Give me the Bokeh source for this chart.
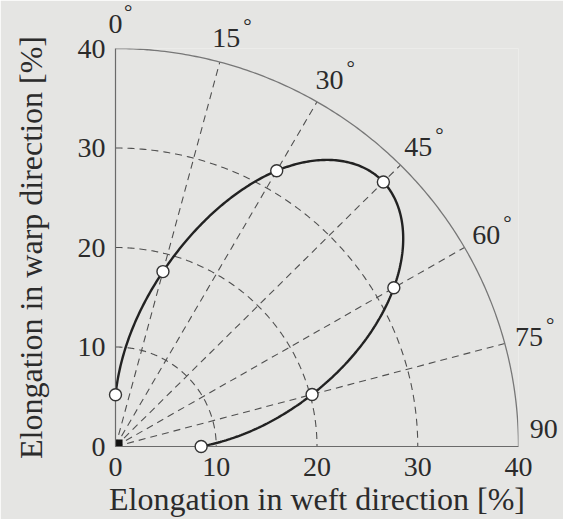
import numpy as np
from bokeh.plotting import figure
from bokeh.models import Range1d, FixedTicker
from bokeh.embed import file_html
from bokeh.resources import INLINE
from bokeh.core.properties import value

# Loading direction, measured from the warp (vertical) axis, in degrees
angles_deg = [0, 15, 30, 45, 60, 75, 90]
# Elongation at break in each direction [%]
elongation = [5.2, 18.2, 32.0, 37.6, 31.9, 20.2, 8.5]
angle_labels = ["0", "15", "30", "45", "60", "75", "90"]
ring_radii = [10, 20, 30]
outer_radius = 40
axis_ticks = [0, 10, 20, 30, 40]

FONT = "Liberation Serif"
INK = "#2b2b2b"
BG = "#e5e5e3"


def natural_spline(xk, yk, xs):
    """Natural cubic spline through (xk, yk), evaluated at xs."""
    xk = np.asarray(xk, float)
    yk = np.asarray(yk, float)
    n = len(xk)
    h = np.diff(xk)
    A = np.zeros((n, n))
    b = np.zeros(n)
    A[0, 0] = A[-1, -1] = 1.0
    for i in range(1, n - 1):
        A[i, i - 1] = h[i - 1]
        A[i, i] = 2 * (h[i - 1] + h[i])
        A[i, i + 1] = h[i]
        b[i] = 6 * ((yk[i + 1] - yk[i]) / h[i] - (yk[i] - yk[i - 1]) / h[i - 1])
    M = np.linalg.solve(A, b)
    idx = np.clip(np.searchsorted(xk, xs) - 1, 0, n - 2)
    x0, x1 = xk[idx], xk[idx + 1]
    hh = x1 - x0
    t0, t1 = x1 - xs, xs - x0
    return ((M[idx] * t0 ** 3 + M[idx + 1] * t1 ** 3) / (6 * hh)
            + (yk[idx] / hh - M[idx] * hh / 6) * t0
            + (yk[idx + 1] / hh - M[idx + 1] * hh / 6) * t1)


def to_xy(theta_deg, r):
    t = np.radians(theta_deg)
    return r * np.sin(t), r * np.cos(t)


p = figure(width=563, height=519,
           x_range=Range1d(0, 40), y_range=Range1d(0, 40),
           min_border_left=115, min_border_right=45,
           min_border_top=48, min_border_bottom=69,
           output_backend="svg", toolbar_location=None)
p.background_fill_color = BG
p.border_fill_color = BG
p.outline_line_color = None
p.grid.visible = False

for ax in (p.xaxis[0], p.yaxis[0]):
    ax.ticker = FixedTicker(ticks=axis_ticks)
    ax.axis_line_color = "#6a6a6a"
    ax.axis_line_width = 1.2
    ax.major_tick_in = 0
    ax.major_tick_out = 0
    ax.minor_tick_line_color = None
    ax.major_label_text_font = FONT
    ax.major_label_text_font_size = "28px"
    ax.major_label_text_color = INK
    ax.axis_label_text_font = FONT
    ax.axis_label_text_font_size = "32px"
    ax.axis_label_text_font_style = "normal"
    ax.axis_label_text_color = INK

p.xaxis.axis_label = "Elongation in weft direction [%]"
p.yaxis.axis_label = "Elongation in warp direction [%]"
p.xaxis.major_label_standoff = 11
p.yaxis.major_label_standoff = 10
p.xaxis.axis_label_standoff = 2
p.yaxis.axis_label_standoff = 26

# dashed polar grid: rings and spokes
fine = np.linspace(0, 90, 181)
for r in ring_radii:
    gx, gy = to_xy(fine, r)
    p.line(gx, gy, line_color="#505050", line_width=1.1, line_dash="7 5")
for a in angles_deg[1:-1]:
    sx, sy = to_xy(np.array([a, a], float), np.array([0.0, outer_radius]))
    p.line(sx, sy, line_color="#505050", line_width=1.1, line_dash="7 5")

# outer boundary arc
ox, oy = to_xy(fine, outer_radius)
p.line(ox, oy, line_color="#777777", line_width=1.3)

# small filled square at the pole
p.quad(left=[0], right=[0.7], bottom=[0], top=[0.7], fill_color="#111111", line_color=None)

# smooth elongation curve through the measured directions
th = np.linspace(0, 90, 361)
rr = natural_spline(angles_deg, elongation, th)
cx, cy = to_xy(th, rr)
p.line(cx, cy, line_color="#222222", line_width=2.4)

px, py = to_xy(np.array(angles_deg, float), np.array(elongation))
pts = p.scatter(px, py, size=12, marker="circle", fill_color="white",
                line_color="#333333", line_width=1.4)
pts.level = "overlay"

# angle labels around the outer arc
lab_r = 42.5
lx, ly = to_xy(np.array(angles_deg, float), lab_r)
ly = np.where(np.array(angles_deg) == 90, ly + 1.8, ly)
deg_text = ["" if a == 90 else "°" for a in angles_deg]
deg_off = [len(s) * 8.5 for s in angle_labels]

nums = p.text(x=lx, y=ly, text=angle_labels,
              text_font=value(FONT), text_font_size="28px", text_color=INK,
              text_align="center", text_baseline="middle")
nums.level = "overlay"
degs = p.text(x=lx, y=ly, text=deg_text, x_offset=deg_off, y_offset=-12,
              text_font=value(FONT), text_font_size="21px", text_color=INK,
              text_align="left", text_baseline="middle")
degs.level = "overlay"

open("out.html", "w").write(file_html(p, INLINE))
